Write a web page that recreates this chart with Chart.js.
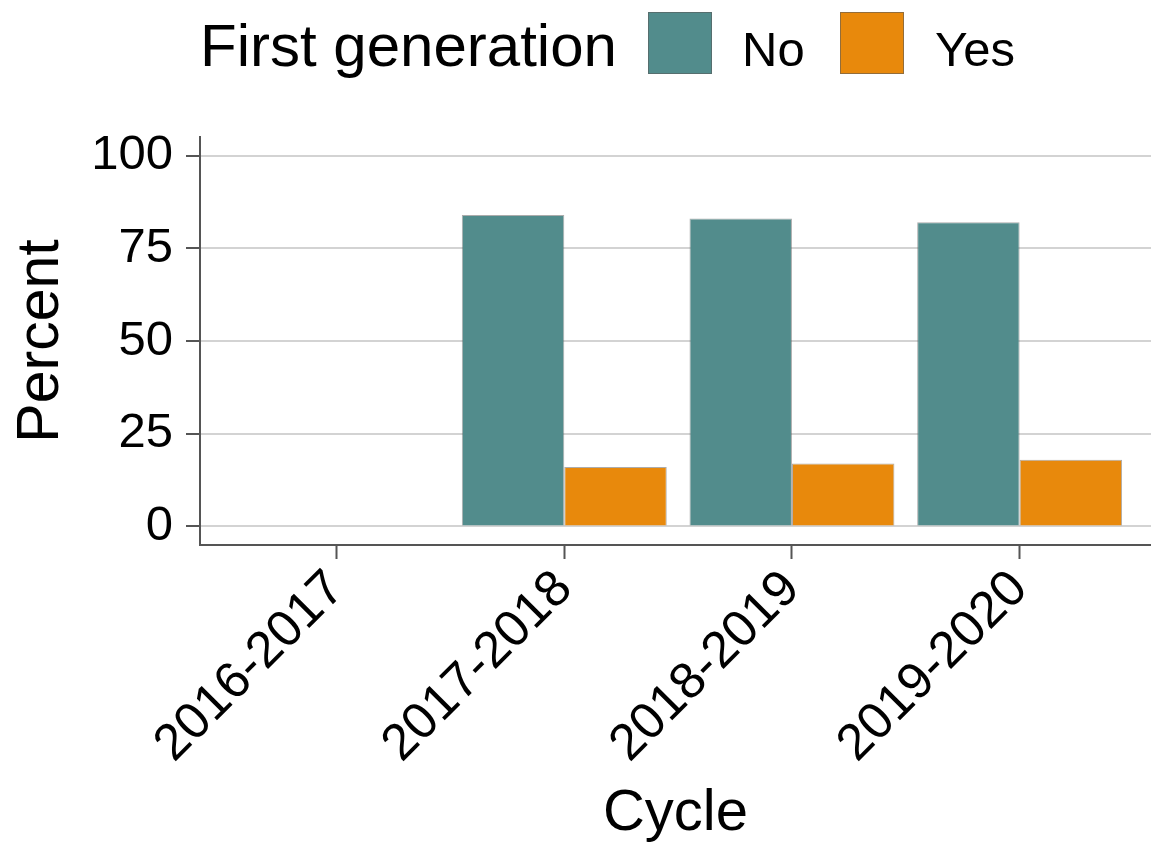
<!DOCTYPE html>
<html>
<head>
<meta charset="utf-8">
<script src="https://cdn.jsdelivr.net/npm/chart.js@4/dist/chart.umd.min.js"></script>
<style>
    body { margin: 0; background: #fff; }
    #wrap { position: relative; width: 1151px; height: 853px; overflow: hidden; font-family: "Liberation Sans", Arial, sans-serif; }
    .lg { position: absolute; line-height: 1; color: #000; white-space: nowrap; }
    .box { position: absolute; border: 1px solid rgba(90,90,90,0.6); box-sizing: border-box; }
</style>
</head>
<body>
<div id="wrap">
    <canvas id="chart" width="1151" height="853"></canvas>
    <span class="lg" style="left:200px; top:16px; font-size:60px;">First generation</span>
    <div class="box" style="left:648px; top:12px; width:64px; height:62px; background:#528C8C;"></div>
    <span class="lg" style="left:742px; top:25px; font-size:49px;">No</span>
    <div class="box" style="left:840px; top:12px; width:64px; height:62px; background:#E8890C;"></div>
    <span class="lg" style="left:935px; top:25px; font-size:49px;">Yes</span>
</div>
<script>
const categories = ["2016-2017", "2017-2018", "2018-2019", "2019-2020"]
const noValues = [null, 84, 83, 82]
const yesValues = [null, 16, 17, 18]
const yTicks = [0, 25, 50, 75, 100]

const noColor = "#528C8C"
const yesColor = "#E8890C"
const axisColor = "#555"

Chart.defaults.font.family = '"Liberation Sans", Arial, sans-serif'
Chart.defaults.color = "#000"

let toPoints = (vals) => categories.map((c, i) => ({ x: i, y: vals[i] }))

new Chart(document.getElementById("chart"), {
    type: "bar",
    data: {
        datasets: [
            { label: "No", data: toPoints(noValues), backgroundColor: noColor, borderColor: "rgba(90,90,90,0.5)", borderWidth: 1 },
            { label: "Yes", data: toPoints(yesValues), backgroundColor: yesColor, borderColor: "rgba(90,90,90,0.5)", borderWidth: 1 }
        ]
    },
    options: {
        responsive: false,
        animation: false,
        devicePixelRatio: 1,
        categoryPercentage: 0.9,
        barPercentage: 1,
        layout: { padding: { top: 137, left: 0, right: 0, bottom: 0 } },
        plugins: { legend: { display: false }, tooltip: { enabled: false } },
        scales: {
            x: {
                type: "linear",
                offset: false,
                min: -0.6,
                max: 3.577,
                afterBuildTicks: (s) => { s.ticks = categories.map((c, i) => ({ value: i })) },
                afterFit: (s) => { s.height = 853 - 545 },
                grid: { offset: false, drawOnChartArea: false, drawTicks: true, tickLength: 14, tickColor: axisColor, tickWidth: 2 },
                border: { color: axisColor, width: 2 },
                ticks: {
                    callback: (v) => categories[v],
                    minRotation: 45, maxRotation: 45, autoSkip: false,
                    font: { size: 51 }, color: "#000", padding: 0
                },
                title: { display: true, text: "Cycle", font: { size: 58 }, color: "#000", padding: { top: 0, bottom: 4 } }
            },
            y: {
                min: -5,
                max: 105,
                afterBuildTicks: (s) => { s.ticks = yTicks.map((v) => ({ value: v })) },
                afterFit: (s) => { s.width = 200 },
                grid: { color: "#D3D3D3", lineWidth: 2, tickLength: 14, tickColor: axisColor, tickWidth: 2 },
                border: { color: axisColor, width: 2 },
                ticks: { font: { size: 49 }, color: "#000", padding: 13 },
                title: { display: true, text: "Percent", font: { size: 59 }, color: "#000", padding: { top: 6, bottom: 0 } }
            }
        }
    }
})
</script>
</body>
</html>
